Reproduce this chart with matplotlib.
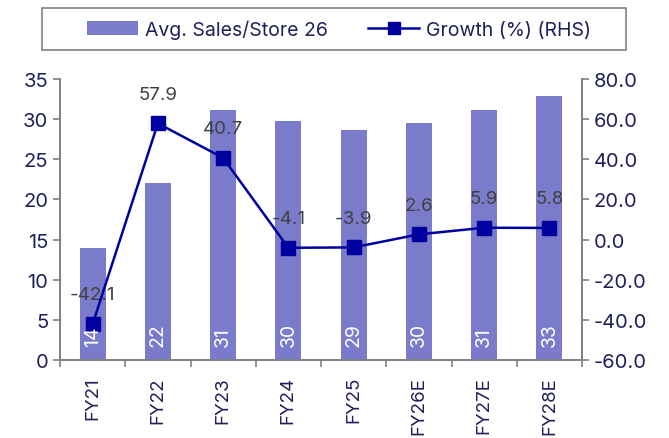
import matplotlib
matplotlib.use("Agg")
import matplotlib.pyplot as plt
import numpy as np
from matplotlib.patches import Patch, Rectangle
from matplotlib.lines import Line2D

categories = ["FY21", "FY22", "FY23", "FY24", "FY25", "FY26E", "FY27E", "FY28E"]
sales = [14.0, 22.1, 31.1, 29.8, 28.7, 29.5, 31.1, 32.9]
sales_labels = ["14", "22", "31", "30", "29", "30", "31", "33"]
growth = [-42.1, 57.9, 40.7, -4.1, -3.9, 2.6, 5.9, 5.8]

plt.rcParams['font.family'] = ['Inter', 'DejaVu Sans']
text_col = "#1f1f5c"
bar_col = "#7b7bcb"
line_col = "#0000a0"
spine_col = "#808080"

fig = plt.figure(figsize=(6.69, 4.39), dpi=100)
ax = fig.add_axes([60/669, 1-361/439, (582-60)/669, (361-80)/439])
ax2 = ax.twinx()

x = np.arange(len(categories))
ax.bar(x, sales, width=0.4, color=bar_col, zorder=1)

ax.set_ylim(0, 35)
ax.set_yticks(range(0, 36, 5))
ax.set_xlim(-0.5, len(categories) - 0.5)
ax.set_xticks(x)
ax.set_xticklabels(categories, rotation=90, fontsize=13.5, color=text_col)
ax.set_xticks(np.arange(-0.5, len(categories), 1), minor=True)
ax.tick_params(axis='x', which='major', length=0, pad=11.5)
ax.tick_params(axis='x', which='minor', length=5, color=spine_col, width=1.2)
ax.tick_params(axis='y', labelsize=14.5, labelcolor=text_col, color=spine_col, length=5, width=1.2)

ax2.plot(x, growth, color=line_col, marker='s', markersize=10, linewidth=1.8, zorder=4)
ax2.set_ylim(-60, 80)
ax2.set_yticks(range(-60, 81, 20))
ax2.set_yticklabels([f"{v:.1f}" for v in range(-60, 81, 20)])
ax2.tick_params(axis='y', labelsize=14.5, labelcolor=text_col, color=spine_col, length=5, width=1.2)
for xi, g in zip(x, growth):
    ax2.annotate(f"{g:.1f}", (xi, g), xytext=(0, 21), textcoords='offset points',
                 ha='center', va='center', fontsize=13.5, color='#404040')
for xi, lab in zip(x, sales_labels):
    ax2.text(xi, 1.8, lab, rotation=90, ha='center', va='bottom', color='white',
             fontsize=14, zorder=6, transform=ax.transData)

for a in (ax, ax2):
    a.spines['top'].set_visible(False)
    for s in ('left', 'right', 'bottom'):
        a.spines[s].set_color(spine_col)
        a.spines[s].set_linewidth(1.2)

handles = [Patch(facecolor=bar_col, edgecolor='none'),
           Line2D([0], [0], color=line_col, marker='s', markersize=9, linewidth=1.8)]
leg = fig.legend(handles, ["Avg. Sales/Store 26", "Growth (%) (RHS)"], loc='center',
                 bbox_to_anchor=(339/669, 1-30/439), ncol=2, frameon=False,
                 fontsize=14, handlelength=2.6, handletextpad=0.36, columnspacing=2.1,
                 labelcolor=text_col)
fig.patches.append(Rectangle((42/669, 1-51/439), (626-42)/669, 42/439, transform=fig.transFigure,
                             fill=False, edgecolor=spine_col, linewidth=1.2))

fig.savefig("out.png", dpi=100)
